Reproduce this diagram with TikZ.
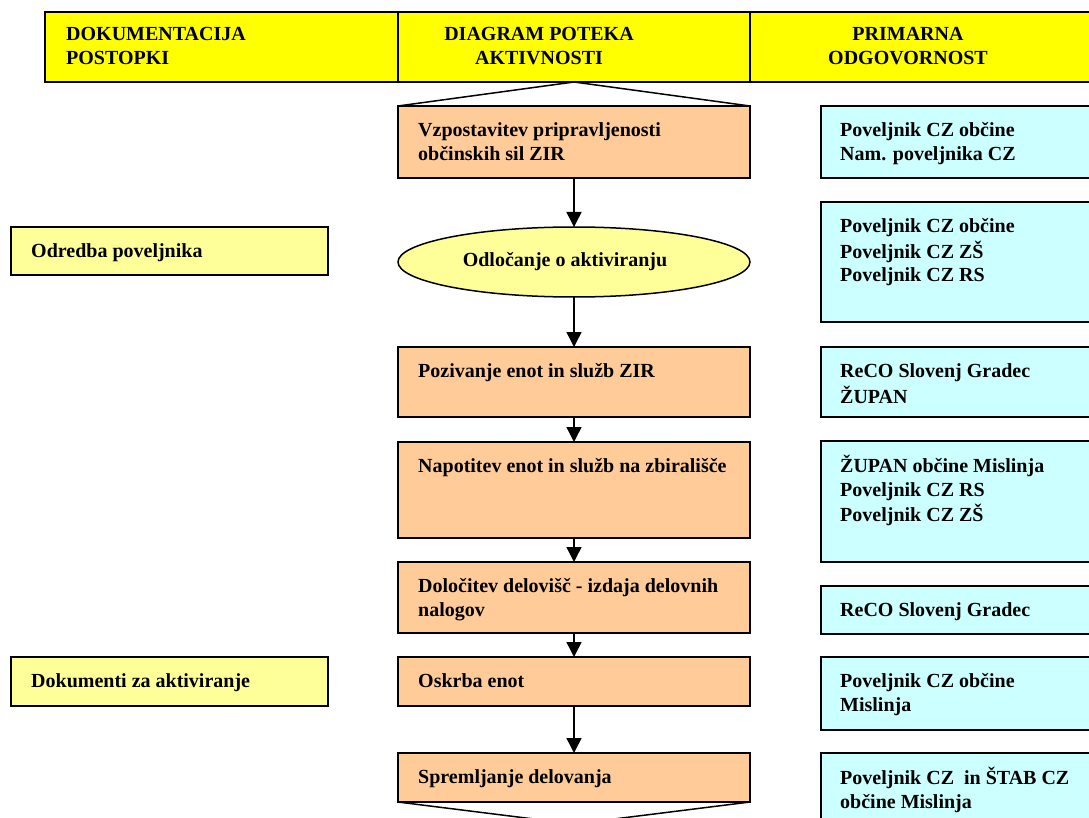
\documentclass[tikz,border=0pt]{standalone}
\usepackage{fontspec}
\setmainfont{Liberation Serif}
\usetikzlibrary{shapes.geometric,arrows.meta,calc}
\definecolor{hdrYellow}{HTML}{FFFF00}
\definecolor{actOrange}{HTML}{FFCC99}
\definecolor{respCyan}{HTML}{CCFFFF}
\definecolor{docYellow}{HTML}{FFFF99}
\tikzset{
  frame/.style={draw=black, line width=1.5pt, anchor=north west, inner sep=0pt, outer sep=0pt},
  hdrbox/.style={frame, fill=hdrYellow, minimum height=70},
  actbox/.style={frame, fill=actOrange, minimum width=352},
  respbox/.style={frame, fill=respCyan, minimum width=285},
  docbox/.style={frame, fill=docYellow, minimum width=317},
  decision/.style={ellipse, draw=black, line width=1.5pt, fill=docYellow, minimum width=352, minimum height=70, inner sep=0pt, outer sep=0pt},
  txt/.style={anchor=north west, inner sep=0pt, align=left, font=\fontsize{20}{23.5}\selectfont\bfseries},
  ctxt/.style={anchor=north, inner sep=0pt, align=center, font=\fontsize{20}{23.5}\selectfont\bfseries},
  arr/.style={line width=1.5pt, -{Triangle[length=15pt,width=15pt]}},
  outline/.style={line width=1.5pt}
}
\begin{document}
\begin{tikzpicture}[x=1pt,y=-1pt]
\useasboundingbox (0,0) rectangle (1089,818);
\clip (0,0) rectangle (1089,818);
% header
\node[hdrbox, minimum width=353] (h1) at (45,12) {};
\node[hdrbox, minimum width=352] (h2) at (398,12) {};
\node[hdrbox, minimum width=350] (h3) at (750,12) {};
\node[txt] (ht1) at (66,24) {\strut DOKUMENTACIJA\\\strut POSTOPKI};
\node[ctxt] (ht2) at (539,24) {\strut DIAGRAM POTEKA\\\strut AKTIVNOSTI};
\node[ctxt] (ht3) at (908,24) {\strut PRIMARNA\\\strut ODGOVORNOST};
% activity column
\node[actbox, minimum height=72] (b1) at (398,106) {};
\node[decision] (dec) at (574,262) {};
\node[actbox, minimum height=70] (b3) at (398,347) {};
\node[actbox, minimum height=96] (b4) at (398,442) {};
\node[actbox, minimum height=71] (b5) at (398,562) {};
\node[actbox, minimum height=49] (b6) at (398,657) {};
\node[actbox, minimum height=49] (b7) at (398,753) {};
\node[txt] (t1) at ($(b1.north west)+(20,14)$) {\strut Vzpostavitev pripravljenosti\\\strut občinskih sil ZIR};
\node[txt, anchor=center] (tdec) at (565,261.5) {Odločanje o aktiviranju};
\node[txt] (t3) at ($(b3.north west)+(20,14)$) {\strut Pozivanje enot in služb ZIR};
\node[txt] (t4) at ($(b4.north west)+(20,14)$) {\strut Napotitev enot in služb na zbirališče};
\node[txt] (t5) at ($(b5.north west)+(20,14)$) {\strut Določitev delovišč - izdaja delovnih\\\strut nalogov};
\node[txt] (t6) at ($(b6.north west)+(20,14)$) {\strut Oskrba enot};
\node[txt] (t7) at ($(b7.north west)+(20,14)$) {\strut Spremljanje delovanja};
% start / end shapes
\draw[outline] (b1.north west) -- (h2.south) -- (b1.north east);
\coordinate (endtip) at (574,824);
\draw[outline] (b7.south west) -- (endtip) -- (b7.south east);
% arrows
\draw[arr] (b1.south) -- (dec.north);
\draw[arr] (dec.south) -- (b3.north);
\draw[arr] (b3.south) -- (b4.north);
\draw[arr] (b4.south) -- (b5.north);
\draw[arr] (b5.south) -- (b6.north);
\draw[arr] (b6.south) -- (b7.north);
% responsibility column
\node[respbox, minimum height=72] (r1) at (821,106) {};
\node[respbox, minimum height=120] (r2) at (821,202) {};
\node[respbox, minimum height=70] (r3) at (821,347) {};
\node[respbox, minimum height=121] (r4) at (821,441) {};
\node[respbox, minimum height=48] (r5) at (821,586) {};
\node[respbox, minimum height=73] (r6) at (821,657) {};
\node[respbox, minimum height=80] (r7) at (821,753) {};
\node[txt] (rt1) at ($(r1.north west)+(19,14)$) {\strut Poveljnik CZ občine\\\strut Nam. poveljnika CZ};
\node[txt] (rt2) at ($(r2.north west)+(19,14)$) {\strut Poveljnik CZ občine\\\strut Poveljnik CZ ZŠ\\\strut Poveljnik CZ RS};
\node[txt] (rt3) at ($(r3.north west)+(19,14)$) {\strut ReCO Slovenj Gradec\\\strut ŽUPAN};
\node[txt] (rt4) at ($(r4.north west)+(19,14)$) {\strut ŽUPAN občine Mislinja\\\strut Poveljnik CZ RS\\\strut Poveljnik CZ ZŠ};
\node[txt] (rt5) at ($(r5.north west)+(19,14)$) {\strut ReCO Slovenj Gradec};
\node[txt] (rt6) at ($(r6.north west)+(19,14)$) {\strut Poveljnik CZ občine\\\strut Mislinja};
\node[txt] (rt7) at ($(r7.north west)+(19,14)$) {\strut Poveljnik CZ\ \ in ŠTAB CZ\\\strut občine Mislinja};
% documentation column
\node[docbox, minimum height=48] (l1) at (11,227) {};
\node[docbox, minimum height=49] (l2) at (11,657) {};
\node[txt] (lt1) at ($(l1.north west)+(20,14)$) {\strut Odredba poveljnika};
\node[txt] (lt2) at ($(l2.north west)+(20,14)$) {\strut Dokumenti za aktiviranje};
\end{tikzpicture}
\end{document}
